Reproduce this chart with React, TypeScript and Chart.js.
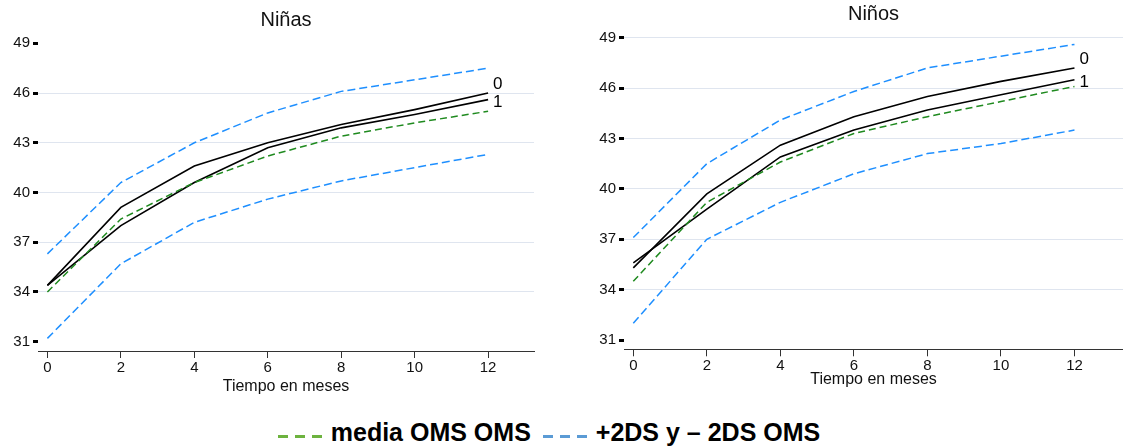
import React, { useEffect, useRef } from "react";
import { Chart, registerables } from "chart.js";

Chart.register(...registerables);

// ---------- data ----------
const MONTHS = [0, 2, 4, 6, 8, 10, 12];
const X_TICKS = [0, 2, 4, 6, 8, 10, 12];
const Y_TICKS = [31, 34, 37, 40, 43, 46, 49];

const NINAS_SUP = [36.3, 40.6, 43.0, 44.8, 46.1, 46.8, 47.5];
const NINAS_G0 = [34.4, 39.1, 41.6, 43.0, 44.1, 45.0, 46.0];
const NINAS_G1 = [34.4, 38.0, 40.6, 42.7, 43.9, 44.7, 45.6];
const NINAS_MEDIA = [34.0, 38.4, 40.6, 42.2, 43.4, 44.2, 44.9];
const NINAS_INF = [31.2, 35.7, 38.2, 39.6, 40.7, 41.5, 42.3];

const NINOS_SUP = [37.1, 41.5, 44.1, 45.8, 47.2, 47.9, 48.6];
const NINOS_G0 = [35.3, 39.7, 42.6, 44.3, 45.5, 46.4, 47.2];
const NINOS_G1 = [35.6, 38.8, 41.9, 43.5, 44.7, 45.6, 46.5];
const NINOS_MEDIA = [34.5, 39.2, 41.6, 43.3, 44.3, 45.2, 46.1];
const NINOS_INF = [32.0, 37.0, 39.2, 40.9, 42.1, 42.7, 43.5];

const GROUP_LABELS = ["0", "1"];
const X_TITLE = "Tiempo en meses";
const LEGEND_MEDIA = "media OMS OMS";
const LEGEND_DS = "+2DS y \u2013 2DS OMS";

// ---------- styles ----------
const FONT = "'Liberation Sans', Arial, Helvetica, sans-serif";
const BLUE = "#1e8fff";
const GREEN = "#1f8a1f";
const GRID = "#dfe5ef";
const LEG_GREEN = "#6db33f";
const LEG_BLUE = "#5b9bd5";

const toPts = (vals: number[]) => MONTHS.map((m, i) => ({ x: m, y: vals[i] }));

const endLabels = {
  id: "endLabels",
  afterDatasetsDraw(chart: any) {
    const ctx = chart.ctx;
    chart.data.datasets.forEach((ds: any, i: number) => {
      if (!GROUP_LABELS.includes(ds.label)) return;
      const meta = chart.getDatasetMeta(i);
      const pt = meta.data[meta.data.length - 1];
      if (!pt) return;
      ctx.save();
      ctx.font = `17px ${FONT}`;
      ctx.fillStyle = "#000";
      ctx.textAlign = "left";
      ctx.textBaseline = "middle";
      ctx.fillText(ds.label, pt.x + 5, pt.y + (ds.label === GROUP_LABELS[0] ? -9 : 3));
      ctx.restore();
    });
  },
};

type PanelProps = {
  title: string;
  sup: number[];
  g0: number[];
  g1: number[];
  media: number[];
  inf: number[];
  left: number;
  width: number;
  height: number;
  yAxisWidth: number;
  rightPad: number;
  xMin: number;
  xMax: number;
  yMin: number;
  yMax: number;
  titleTop: number;
  titleBottom: number;
  xAxisHeight: number;
  xTitleBottom: number;
  topGrid: boolean;
};

function Panel(p: PanelProps) {
  const ref = useRef<HTMLCanvasElement | null>(null);
  useEffect(() => {
    if (!ref.current) return;
    const dashed = (label: string, vals: number[], color: string, dash: number[]) => ({
      label,
      data: toPts(vals),
      borderColor: color,
      borderDash: dash,
      borderWidth: 1.5,
      pointRadius: 0,
      fill: false,
      tension: 0,
    });
    const solid = (label: string, vals: number[]) => ({
      label,
      data: toPts(vals),
      borderColor: "#000",
      borderWidth: 1.6,
      pointRadius: 0,
      fill: false,
      tension: 0,
    });
    const chart = new Chart(ref.current, {
      type: "line",
      data: {
        datasets: [
          dashed("sup", p.sup, BLUE, [8, 4]),
          dashed("inf", p.inf, BLUE, [8, 4]),
          dashed("media", p.media, GREEN, [7, 4]),
          solid(GROUP_LABELS[0], p.g0),
          solid(GROUP_LABELS[1], p.g1),
        ] as any,
      },
      options: {
        animation: false,
        responsive: false,
        maintainAspectRatio: false,
        layout: { padding: { left: 0, right: p.rightPad, top: 0, bottom: 0 } },
        plugins: {
          legend: { display: false },
          tooltip: { enabled: false },
          title: {
            display: true,
            text: p.title,
            fullSize: false,
            color: "#111",
            font: { family: FONT, size: 20, weight: "normal" as any },
            padding: { top: p.titleTop, bottom: p.titleBottom },
          },
        },
        scales: {
          x: {
            type: "linear",
            min: p.xMin,
            max: p.xMax,
            afterBuildTicks: (s: any) => {
              s.ticks = X_TICKS.map((v) => ({ value: v }));
            },
            afterFit: (s: any) => {
              s.height = p.xAxisHeight;
            },
            grid: {
              drawOnChartArea: false,
              drawTicks: true,
              tickLength: 7,
              tickWidth: 1,
              tickColor: "#333",
            },
            border: { display: true, color: "#333", width: 1 },
            ticks: {
              color: "#111",
              font: { family: FONT, size: 15 },
              padding: 1,
              maxRotation: 0,
              autoSkip: false,
            },
            title: {
              display: true,
              text: X_TITLE,
              color: "#111",
              font: { family: FONT, size: 16 },
              padding: { top: 0, bottom: p.xTitleBottom },
            },
          },
          y: {
            type: "linear",
            min: p.yMin,
            max: p.yMax,
            afterBuildTicks: (s: any) => {
              s.ticks = Y_TICKS.map((v) => ({ value: v }));
            },
            afterFit: (s: any) => {
              s.width = p.yAxisWidth;
            },
            grid: {
              color: (ctx: any) => {
                const v = ctx.tick ? ctx.tick.value : null;
                if (v === Y_TICKS[0]) return "rgba(0,0,0,0)";
                if (v === Y_TICKS[Y_TICKS.length - 1] && !p.topGrid) return "rgba(0,0,0,0)";
                return GRID;
              },
              lineWidth: 1,
              drawTicks: true,
              tickLength: 5,
              tickWidth: 3,
              tickColor: "#000",
            },
            border: { display: false },
            ticks: {
              color: "#111",
              font: { family: FONT, size: 15 },
              padding: 3,
              autoSkip: false,
            },
          },
        },
      } as any,
      plugins: [endLabels],
    });
    return () => chart.destroy();
  }, []);
  return (
    <canvas
      ref={ref}
      width={p.width}
      height={p.height}
      style={{ position: "absolute", left: p.left, top: 0, width: p.width, height: p.height }}
    />
  );
}

function Dashes({ color }: { color: string }) {
  return (
    <span style={{ display: "inline-block", verticalAlign: "middle", marginRight: 9 }}>
      {[0, 1, 2].map((i) => (
        <span
          key={i}
          style={{
            display: "inline-block",
            width: 10,
            height: 3,
            background: color,
            marginRight: i < 2 ? 7 : 0,
            verticalAlign: "middle",
          }}
        />
      ))}
    </span>
  );
}

export default function App() {
  return (
    <div style={{ position: "absolute", left: 0, top: 0, width: 1123, height: 447, background: "#fff", overflow: "hidden" }}>
      <Panel
        title="Niñas"
        sup={NINAS_SUP}
        g0={NINAS_G0}
        g1={NINAS_G1}
        media={NINAS_MEDIA}
        inf={NINAS_INF}
        left={0}
        width={560}
        height={400}
        yAxisWidth={38}
        rightPad={26}
        xMin={-0.256}
        xMax={13.25}
        yMin={30.44}
        yMax={49.5}
        titleTop={8}
        titleBottom={3}
        xAxisHeight={49}
        xTitleBottom={4}
        topGrid={false}
      />
      <Panel
        title="Niños"
        sup={NINOS_SUP}
        g0={NINOS_G0}
        g1={NINOS_G1}
        media={NINOS_MEDIA}
        inf={NINOS_INF}
        left={560}
        width={563}
        height={400}
        yAxisWidth={64}
        rightPad={0}
        xMin={-0.253}
        xMax={13.32}
        yMin={30.45}
        yMax={49.5}
        titleTop={2}
        titleBottom={3.3}
        xAxisHeight={50.7}
        xTitleBottom={10.5}
        topGrid={true}
      />
      <div
        style={{
          position: "absolute",
          left: 0,
          top: 417,
          width: 1098,
          textAlign: "center",
          fontFamily: FONT,
          fontWeight: "bold",
          fontSize: 25,
          lineHeight: "30px",
          color: "#000",
          whiteSpace: "nowrap",
        }}
      >
        <Dashes color={LEG_GREEN} />
        <span>{LEGEND_MEDIA}</span>
        <span style={{ display: "inline-block", width: 12 }} />
        <Dashes color={LEG_BLUE} />
        <span>{LEGEND_DS}</span>
      </div>
    </div>
  );
}
